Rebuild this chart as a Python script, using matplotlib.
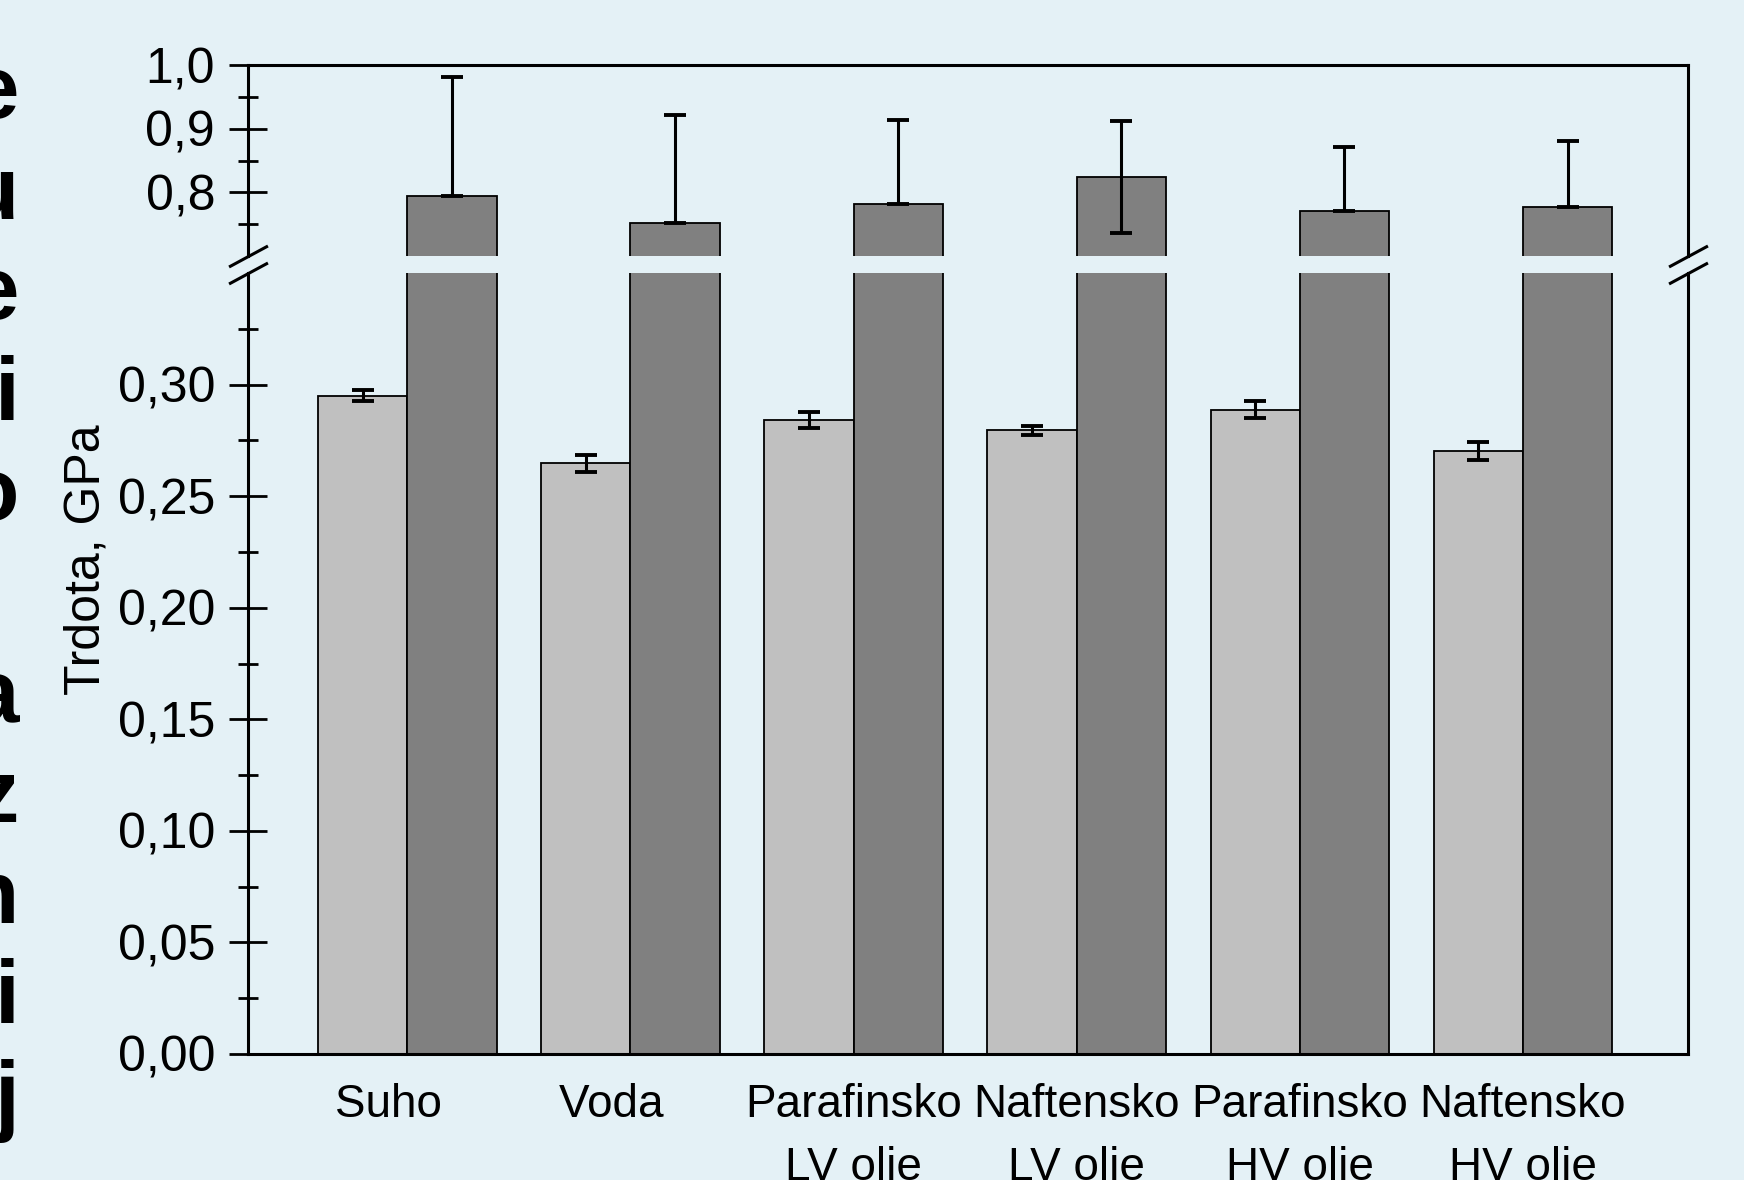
import matplotlib
matplotlib.use("Agg")
import matplotlib.pyplot as plt
from matplotlib.ticker import FixedLocator, FuncFormatter
import numpy as np

plt.rcParams['font.family'] = ['Liberation Sans', 'DejaVu Sans']

# data
categories = ["Suho   ", "Voda   ", "Parafinsko\nLV olie", "Naftensko\nLV olie",
              "Parafinsko\nHV olie", "Naftensko\nHV olie"]
light_vals = [0.2950, 0.2647, 0.2840, 0.2795, 0.2887, 0.2704]
light_err = [0.0025, 0.0037, 0.0035, 0.0020, 0.0038, 0.0040]
dark_vals = [0.795, 0.752, 0.781, 0.8235, 0.771, 0.777]
dark_err = [0.186, 0.169, 0.133, 0.088, 0.100, 0.104]

# ends of lines of a neighbouring text column (cut by the left edge)
side_letters = ['e', 'u', 'e', 'i', 'o', '', 'a', 'z', 'n', 'i', 'j']

bg = '#E4F1F6'
W, H = 1744, 1180
fig = plt.figure(figsize=(W / 100, H / 100), dpi=100, facecolor=bg)

left, right = 248 / W, 1688 / W
ax_top = fig.add_axes([left, 1 - 256 / H, right - left, (256 - 65) / H], facecolor=bg)
ax_bot = fig.add_axes([left, 1 - 1054 / H, right - left, (1054 - 273) / H], facecolor=bg)

x = np.arange(1, len(categories) + 1)
bw = 0.4

for ax, ylim in ((ax_top, (0.70, 1.0)), (ax_bot, (0.0, 0.35))):
    ax.bar(x - bw / 2, light_vals, bw, color='#C0C0C0', edgecolor='k', linewidth=1.3, zorder=2)
    ax.bar(x + bw / 2, dark_vals, bw, color='#808080', edgecolor='k', linewidth=1.3, zorder=2)
    # lower half of an error bar is only drawn when it stays inside the axis range
    for xs, vals, errs in ((x - bw / 2, light_vals, light_err), (x + bw / 2, dark_vals, dark_err)):
        lo = [e if v - e >= ylim[0] else 0 for v, e in zip(vals, errs)]
        ax.errorbar(xs, vals, yerr=[lo, errs], fmt='none', ecolor='k', elinewidth=2.2,
                    capsize=8, capthick=2.8, zorder=3)
    ax.set_ylim(*ylim)
    ax.set_xlim(0.286, 6.74)
    for s in ax.spines.values():
        s.set_linewidth(2.2)
    ax.tick_params(axis='y', which='major', direction='inout', length=27.5, width=2.0,
                   labelsize=36, pad=10)
    ax.tick_params(axis='y', which='minor', direction='inout', length=14.5, width=2.0)

ax_top.spines['bottom'].set_visible(False)
ax_bot.spines['top'].set_visible(False)
ax_top.tick_params(axis='x', which='both', bottom=False, labelbottom=False)

ax_top.yaxis.set_major_locator(FixedLocator([0.8, 0.9, 1.0]))
ax_top.yaxis.set_minor_locator(FixedLocator([0.75, 0.85, 0.95]))
ax_top.yaxis.set_major_formatter(FuncFormatter(lambda v, p: f"{v:.1f}".replace('.', ',')))

ax_bot.yaxis.set_major_locator(FixedLocator(np.arange(0, 0.301, 0.05)))
ax_bot.yaxis.set_minor_locator(FixedLocator(np.arange(0.025, 0.33, 0.05)))
ax_bot.yaxis.set_major_formatter(FuncFormatter(lambda v, p: f"{v:.2f}".replace('.', ',')))

ax_bot.set_xticks(x)
ax_bot.set_xticklabels(categories, fontsize=33)
ax_bot.tick_params(axis='x', length=0, pad=21)
for t in ax_bot.get_xticklabels():
    t.set_linespacing(1.55)

# break marks
d = 0.54
mk = dict(marker=[(-1, -d), (1, d)], markersize=28, linestyle='none', color='k',
          mec='k', mew=2.2, clip_on=False, zorder=5)
ax_top.plot([0, 1], [0, 0], transform=ax_top.transAxes, **mk)
ax_bot.plot([0, 1], [1, 1], transform=ax_bot.transAxes, **mk)

# y label centred on both axes
fig.text(86 / W, ((1 - 65 / H) + (1 - 1054 / H)) / 2, 'Trdota, GPa', rotation=90,
         ha='center', va='center', fontsize=36)

# cut-off letters at the left edge
for i, ch in enumerate(side_letters):
    if ch:
        fig.text(19 / W, 1 - (118 + 100.6 * i) / H, ch, ha='right', va='baseline',
                 fontsize=64, fontweight='bold')

fig.savefig('out.png', dpi=100, facecolor=bg)
